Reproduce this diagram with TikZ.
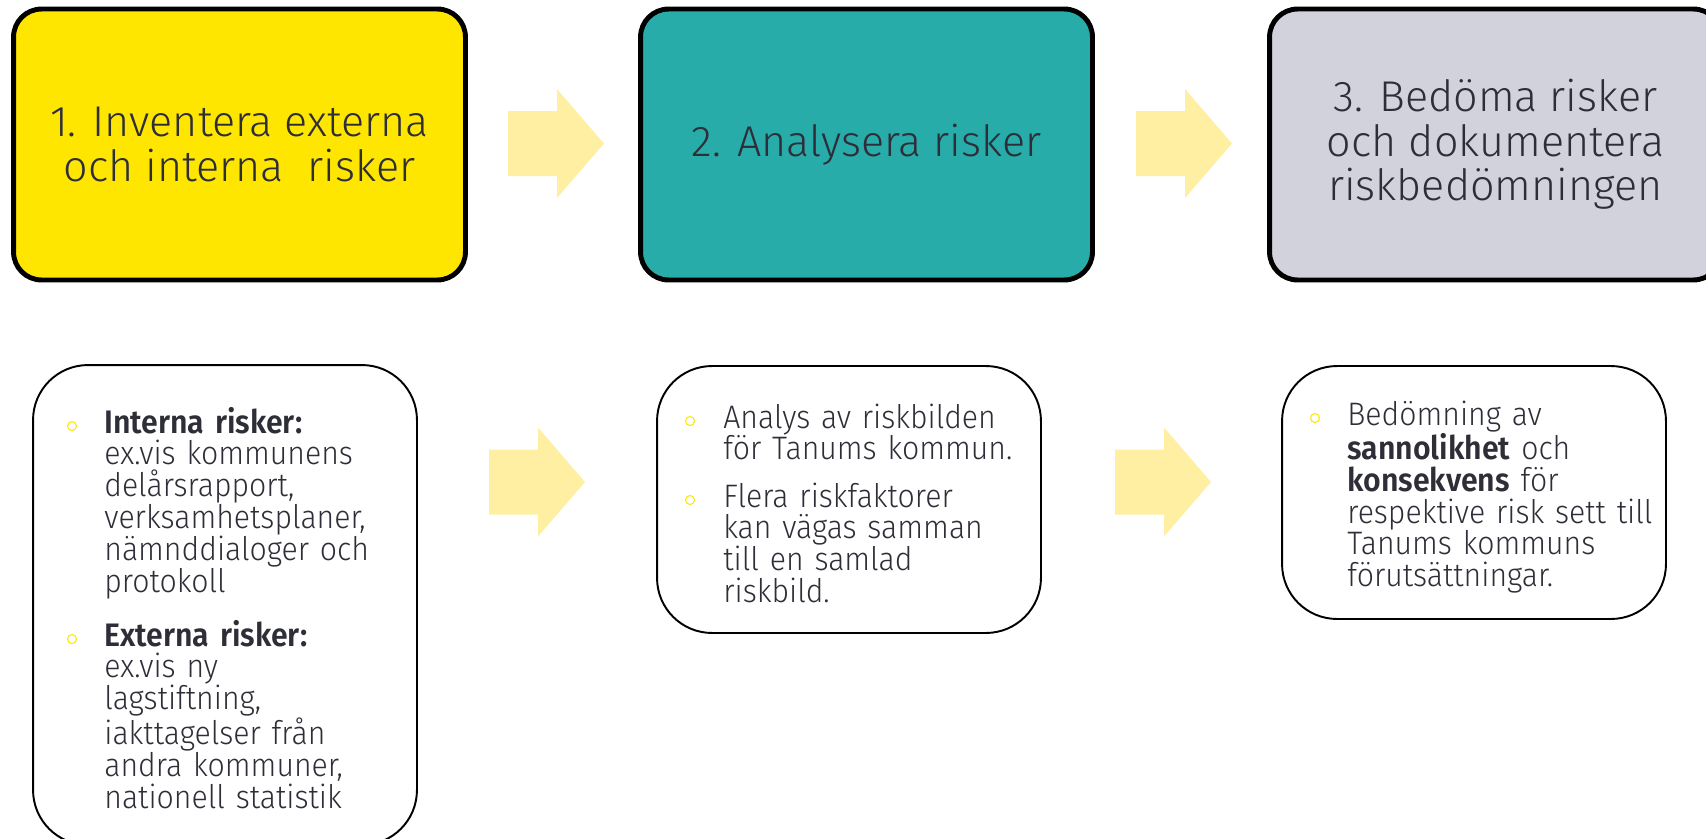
\documentclass[tikz,border=0pt]{standalone}
\usepackage{fontspec}
\setmainfont{Fira Sans Light}[BoldFont={Fira Sans SemiBold}]
\newfontfamily\notefont{Fira Sans Light}[FakeStretch=0.93,BoldFont={Fira Sans SemiBold}]
\usetikzlibrary{positioning}
\definecolor{eyyellow}{HTML}{FFE600}
\definecolor{eyteal}{HTML}{27ACAA}
\definecolor{eygrey}{HTML}{D2D2DC}
\definecolor{eytext}{HTML}{2E2E38}
\definecolor{arrowyellow}{HTML}{FFEFA3}
\tikzset{stepbox/.style={draw=black,line width=2.8pt,rounded corners=0.56cm,minimum width=9.04cm,minimum height=5.42cm,align=center,text=eytext,font=\fontsize{24.5}{25.3}\selectfont}}
\tikzset{notebox/.style={draw=black,line width=1.1pt,rounded corners=1.1cm,minimum width=7.68cm}}
\tikzset{notetext/.style={anchor=base west,text width=7cm,align=left,inner sep=0pt,text=eytext,font=\notefont\fontsize{18.5}{18.1}\selectfont}}
\tikzset{bulletring/.style={circle,draw=eyyellow,line width=0.6pt,minimum size=0.18cm,inner sep=0pt}}
\tikzset{pics/blockarrow/.style={code={\fill[arrowyellow] (0,-32.5) -- (49,-32.5) -- (49,-54.5) -- (96,0) -- (49,54.5) -- (49,32.5) -- (0,32.5) -- cycle;}}}

\begin{document}
\begin{tikzpicture}[x=0.02cm,y=-0.02cm]
        \clip (0,0) rectangle (1706,838);
        % the three steps
        \node[stepbox,fill=eyyellow] (step1) at (239.5,144.5) {1. Inventera externa\\och interna~ risker};
        \node[stepbox,fill=eyteal] (step2) at (866.5,144.5) {2. Analysera risker};
        \node[stepbox,fill=eygrey] (step3) at (1495.5,144.5) {3. Bedöma risker\\och dokumentera\\riskbedömningen};
        \pic (arrA) at (508,143.5) {blockarrow};
        \pic (arrB) at (1136,143.5) {blockarrow};

        % the notes below
        \node[notebox,minimum height=9.6cm] (note1) at (225,605) {};
        \node[notebox,minimum height=5.34cm] (note2) at (849,499.5) {};
        \node[notebox,minimum height=5.06cm] (note3) at (1474,492.5) {};
        \pic (arrC) at (489,482) {blockarrow};
        \pic (arrD) at (1115,482) {blockarrow};

        \node[notetext] (intern) at (104,433) {\textbf{Interna risker:}\\ex.vis kommunens\\delårsrapport,\\verksamhetsplaner,\\nämnddialoger och\\protokoll};
        \node[bulletring] (bulintern) at (72,426) {};
        \node[notetext] (extern) at (104,646) {\textbf{Externa risker:}\\ex.vis ny\\lagstiftning,\\iakttagelser från\\andra kommuner,\\nationell statistik};
        \node[bulletring] (bulextern) at (72,639) {};

        \node[notetext] (analys) at (723,428) {Analys av riskbilden\\för Tanums kommun.};
        \node[bulletring] (bulanalys) at (690,421) {};
        \node[notetext] (flera) at (723,507) {Flera riskfaktorer\\kan vägas samman\\till en samlad\\riskbild.};
        \node[bulletring] (bulflera) at (690,500) {};

        \node[notetext] (bedom) at (1347,425) {Bedömning av\\\textbf{sannolikhet} och\\\textbf{konsekvens} för\\respektive risk sett till\\Tanums kommuns\\förutsättningar.};
        \node[bulletring] (bulbedom) at (1315,418) {};
\end{tikzpicture}
\end{document}
